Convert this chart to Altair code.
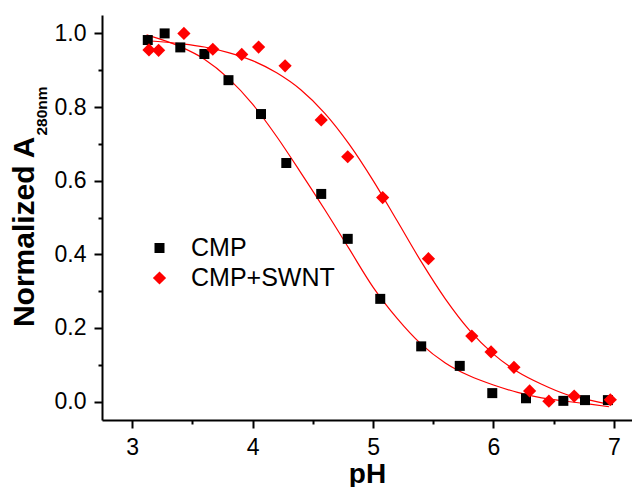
import altair as alt
import pandas as pd

series_names = ["CMP", "CMP+SWNT"]

cmp_ph = [3.13, 3.27, 3.40, 3.60, 3.80, 4.07, 4.28, 4.57, 4.79, 5.06, 5.40, 5.72, 5.99, 6.27, 6.58, 6.76, 6.95]
cmp_abs = [0.982, 1.000, 0.962, 0.944, 0.873, 0.781, 0.648, 0.564, 0.442, 0.279, 0.150, 0.097, 0.023, 0.009, 0.002, 0.004, 0.004]

swnt_ph = [3.14, 3.22, 3.43, 3.67, 3.91, 4.05, 4.27, 4.57, 4.79, 5.08, 5.46, 5.82, 5.98, 6.17, 6.30, 6.46, 6.67, 6.97]
swnt_abs = [0.955, 0.954, 1.000, 0.957, 0.943, 0.963, 0.912, 0.765, 0.665, 0.554, 0.388, 0.178, 0.135, 0.093, 0.029, 0.001, 0.015, 0.005]

cmp_fit_ph = [3.12, 3.4, 3.6, 3.8, 4.0, 4.2, 4.4, 4.6, 4.8, 5.0, 5.2, 5.4, 5.6, 5.8, 6.0, 6.2, 6.4, 6.6, 6.8, 6.96]
cmp_fit_abs = [0.996, 0.964, 0.930, 0.878, 0.808, 0.720, 0.622, 0.521, 0.416, 0.311, 0.226, 0.156, 0.105,
               0.070, 0.045, 0.025, 0.010, 0.001, -0.007, -0.014]

swnt_fit_ph = [3.13, 3.4, 3.6, 3.8, 4.0, 4.2, 4.4, 4.6, 4.8, 5.0, 5.2, 5.4, 5.6, 5.8, 6.0, 6.2, 6.4, 6.6, 6.8, 6.96]
swnt_fit_abs = [0.980, 0.972, 0.963, 0.948, 0.926, 0.893, 0.847, 0.783, 0.700, 0.601, 0.491, 0.380, 0.279,
                0.194, 0.129, 0.081, 0.047, 0.020, 0.004, -0.008]

x_major = [3, 4, 5, 6, 7]
x_minor = [3.5, 4.5, 5.5, 6.5]
y_major = [0.0, 0.2, 0.4, 0.6, 0.8, 1.0]
y_minor = [0.1, 0.3, 0.5, 0.7, 0.9]

pts = pd.concat([
    pd.DataFrame({"ph": cmp_ph, "a": cmp_abs, "series": series_names[0]}),
    pd.DataFrame({"ph": swnt_ph, "a": swnt_abs, "series": series_names[1]}),
], ignore_index=True)

fits = pd.concat([
    pd.DataFrame({"ph": cmp_fit_ph, "a": cmp_fit_abs, "series": series_names[0]}),
    pd.DataFrame({"ph": swnt_fit_ph, "a": swnt_fit_abs, "series": series_names[1]}),
], ignore_index=True)

FONT = "Liberation Sans"
x_scale = alt.Scale(domain=[2.75, 7.15], nice=False, zero=False)
y_scale = alt.Scale(domain=[-0.05, 1.05], nice=False, zero=False)

common_axis = dict(grid=False, domainColor="#000000", domainWidth=2, tickColor="#000000",
                   tickWidth=2, labelColor="#000000", labelFont=FONT, labelFontSize=23)

points = alt.Chart(pts).mark_point(filled=True, opacity=1, strokeWidth=0).encode(
    x=alt.X("ph:Q", scale=x_scale,
            axis=alt.Axis(values=x_major, title="pH", orient="bottom", tickSize=8, labelPadding=8,
                          titleFont=FONT, titleFontSize=28, titleFontWeight="bold", titleColor="#000000",
                          titlePadding=1, **common_axis)),
    y=alt.Y("a:Q", scale=y_scale,
            axis=alt.Axis(values=y_major, format=".1f", title=None, orient="left", tickSize=8,
                          labelPadding=8, **common_axis)),
    color=alt.Color("series:N", scale=alt.Scale(domain=series_names, range=["#000000", "#ff0000"]),
                    legend=alt.Legend(title=None, orient="none", legendX=45, legendY=220.5,
                                      labelFont=FONT, labelFontSize=25, labelColor="#000000",
                                      labelOffset=19, rowPadding=4, symbolStrokeWidth=0, padding=0)),
    shape=alt.Shape("series:N", scale=alt.Scale(domain=series_names, range=["square", "diamond"])),
    size=alt.Size("series:N", scale=alt.Scale(domain=series_names, range=[100, 175])),
)

lines = alt.Chart(fits).mark_line(color="#ff0000", strokeWidth=1.2, interpolate="monotone").encode(
    x=alt.X("ph:Q", scale=x_scale, axis=None),
    y=alt.Y("a:Q", scale=y_scale, axis=None),
    detail="series:N",
)

minor = alt.Chart(pts).mark_point(opacity=0).encode(
    x=alt.X("ph:Q", scale=x_scale,
            axis=alt.Axis(values=x_minor, labels=False, domain=False, title=None, orient="bottom",
                          tickSize=4, tickWidth=2, tickColor="#000000", grid=False)),
    y=alt.Y("a:Q", scale=y_scale,
            axis=alt.Axis(values=y_minor, labels=False, domain=False, title=None, orient="left",
                          tickSize=4, tickWidth=2, tickColor="#000000", grid=False)),
)

title_main = alt.Chart(pd.DataFrame({"t": ["Normalized A"]})).mark_text(
    angle=270, align="right", baseline="alphabetic", font=FONT, fontSize=30,
    fontWeight="bold", color="#000000").encode(text="t:N", x=alt.value(-68), y=alt.value(121.5))

title_sub = alt.Chart(pd.DataFrame({"t": ["280nm"]})).mark_text(
    angle=270, align="left", baseline="alphabetic", font=FONT, fontSize=15.5,
    fontWeight="bold", color="#000000").encode(text="t:N", x=alt.value(-55), y=alt.value(120.5))

chart = alt.layer(minor, lines, points, title_main, title_sub).resolve_axis(
    x="independent", y="independent"
).properties(
    width=530, height=405,
    autosize=alt.AutoSizeParams(type="none"),
    padding={"left": 94, "top": 7, "right": 0, "bottom": 67},
).configure_view(stroke=None)

chart.save("out.html", embed_options={"renderer": "svg", "actions": False})
